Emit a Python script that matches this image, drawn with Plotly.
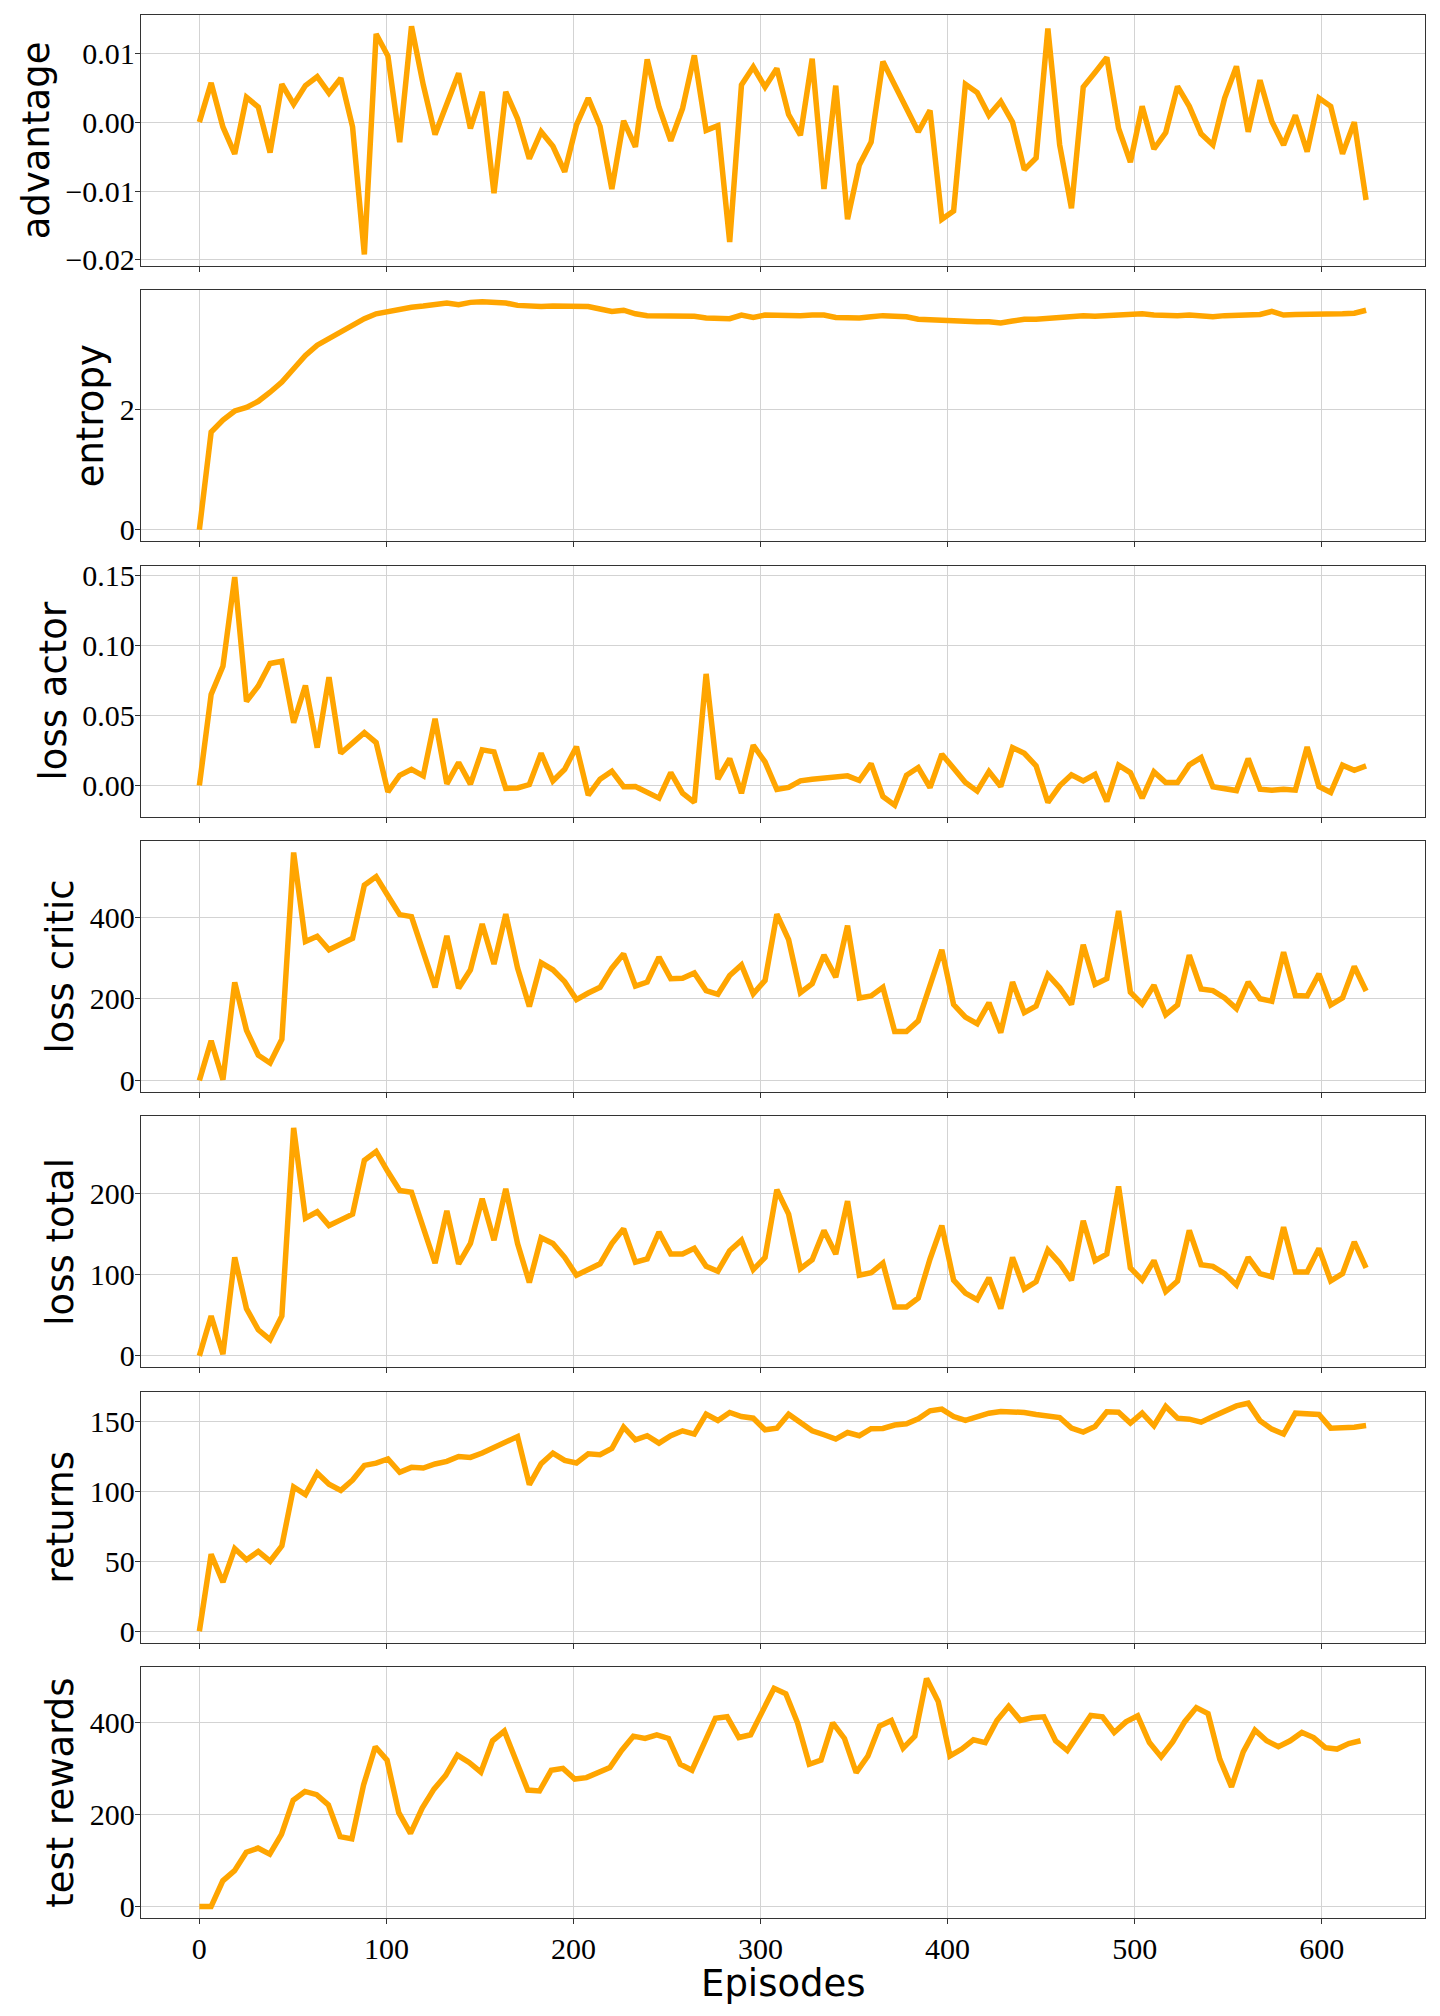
import plotly.graph_objects as go
from plotly.subplots import make_subplots

# episode index of each logged update (100 updates)
episodes = [round(i * 6.3, 2) for i in range(100)]
test_episodes = [round(i * 6.27, 2) for i in range(100)]

advantage = [
    0.0, 0.0057, -0.0007, -0.0046, 0.0036, 0.0022, -0.0044, 0.0055, 0.0026, 0.0053,
    0.0066, 0.0042, 0.0064, -0.0007, -0.0192, 0.0128, 0.0096, -0.0029, 0.0139, 0.0054,
    -0.0018, 0.0025, 0.0071, -0.0009, 0.0044, -0.0103, 0.0044, 0.0005, -0.0053, -0.0014,
    -0.0035, -0.0072, -0.0004, 0.0035, -0.0006, -0.0097, 0.0002, -0.0036, 0.0091, 0.0022,
    -0.0027, 0.0020, 0.0097, -0.0012, -0.0005, -0.0174, 0.0054, 0.0080, 0.0051, 0.0078,
    0.0011, -0.0019, 0.0092, -0.0097, 0.0053, -0.0141, -0.0062, -0.0029, 0.0088, 0.0054,
    0.0020, -0.0014, 0.0017, -0.0141, -0.0129, 0.0055, 0.0043, 0.0010, 0.0030, 0.0000,
    -0.0069, -0.0052, 0.0136, -0.0033, -0.0125, 0.0051, 0.0072, 0.0094, -0.0009, -0.0058,
    0.0023, -0.0039, -0.0015, 0.0052, 0.0023, -0.0017, -0.0033, 0.0035, 0.0081, -0.0014,
    0.0061, 0.0001, -0.0033, 0.0010, -0.0043, 0.0035, 0.0023, -0.0046, 0.0000, -0.0113,
]

entropy = [
    0.0, 1.62, 1.82, 1.97, 2.03, 2.13, 2.28, 2.45, 2.67, 2.89,
    3.06, 3.17, 3.30, 3.40, 3.50, 3.58, 3.62, 3.66, 3.69, 3.71,
    3.73, 3.76, 3.73, 3.77, 3.78, 3.77, 3.76, 3.72, 3.70, 3.70,
    3.71, 3.71, 3.71, 3.70, 3.66, 3.62, 3.64, 3.58, 3.55, 3.55,
    3.56, 3.56, 3.54, 3.51, 3.50, 3.50, 3.56, 3.52, 3.56, 3.55,
    3.55, 3.55, 3.56, 3.56, 3.52, 3.51, 3.51, 3.53, 3.55, 3.54,
    3.53, 3.49, 3.48, 3.48, 3.46, 3.44, 3.45, 3.45, 3.43, 3.46,
    3.49, 3.49, 3.51, 3.52, 3.53, 3.55, 3.54, 3.55, 3.57, 3.59,
    3.58, 3.56, 3.55, 3.55, 3.56, 3.55, 3.53, 3.55, 3.56, 3.56,
    3.57, 3.62, 3.56, 3.57, 3.57, 3.56, 3.57, 3.58, 3.59, 3.64,
]

loss_actor = [
    0.0, 0.065, 0.085, 0.1486, 0.060, 0.071, 0.087, 0.0886, 0.0448, 0.0713,
    0.027, 0.0773, 0.023, 0.031, 0.0377, 0.0306, -0.0045, 0.0073, 0.0116, 0.0069,
    0.0476, 0.0012, 0.0164, 0.001, 0.0254, 0.024, -0.0021, -0.0017, 0.0007, 0.023,
    0.0033, 0.0116, 0.0277, -0.0069, 0.0045, 0.0102, -0.0009, -0.0007, -0.005, -0.009,
    0.0092, -0.0055, -0.012, 0.0796, 0.0045, 0.0192, -0.0055, 0.0287, 0.0168, -0.0028,
    -0.0014, 0.0033, 0.0045, 0.0052, 0.0055, 0.0069, 0.0036, 0.0156, -0.0078, -0.014,
    0.0073, 0.0128, -0.0014, 0.0223, 0.0123, 0.0021, -0.004, 0.010, -0.0007, 0.027,
    0.023, 0.014, -0.012, -0.0002, 0.0076, 0.0033, 0.008, -0.0114, 0.0145, 0.0092,
    -0.009, 0.0097, 0.0021, 0.0021, 0.0147, 0.0199, -0.0009, -0.0019, -0.0036, 0.0192,
    -0.0026, -0.0033, -0.0026, -0.0033, 0.0275, -0.0007, -0.005, 0.0145, 0.0109, 0.014,
]

loss_critic = [
    0, 97, 2, 240, 123, 62, 43, 101, 558, 340,
    353, 320, 334, 348, 478, 499, 452, 406, 401, 314,
    228, 354, 226, 271, 383, 285, 407, 275, 181, 288,
    271, 242, 198, 214, 228, 275, 310, 231, 241, 302,
    249, 250, 263, 220, 211, 257, 283, 212, 245, 407,
    345, 215, 237, 307, 253, 379, 202, 207, 228, 120,
    120, 146, 233, 320, 186, 155, 139, 190, 117, 241,
    166, 182, 259, 227, 186, 332, 235, 249, 415, 216,
    187, 233, 161, 185, 307, 224, 220, 202, 176, 241,
    200, 194, 314, 208, 207, 261, 185, 202, 279, 219,
]

loss_total = [
    0, 49, 2, 121, 58, 32, 20, 49, 280, 169,
    177, 160, 167, 174, 240, 251, 226, 203, 201, 158,
    114, 178, 113, 138, 193, 142, 205, 138, 90, 145,
    138, 121, 99, 106, 113, 138, 156, 115, 119, 152,
    125, 125, 132, 110, 104, 129, 142, 106, 121, 204,
    174, 107, 118, 154, 125, 190, 99, 102, 114, 60,
    60, 71, 119, 160, 93, 77, 69, 96, 58, 121,
    82, 91, 130, 114, 93, 166, 117, 125, 208, 108,
    93, 117, 79, 92, 154, 112, 110, 101, 87, 121,
    101, 97, 158, 103, 103, 132, 92, 101, 140, 108,
]

returns = [
    0, 55, 35, 59, 51, 57, 50, 61, 103, 97.6,
    113, 105, 100.6, 108, 118.4, 120, 123, 113.5, 117, 116.5,
    119.4, 121.3, 124.8, 124.1, 127.2, 131.3, 135.5, 139, 104.7, 119.6,
    127.2, 122, 120.1, 126.7, 126, 130.5, 145.7, 136.7, 139.6, 134.3,
    139.6, 143.1, 140.8, 155, 150.5, 156.2, 153.3, 152.1, 143.8, 145,
    155, 149.3, 143.1, 140.3, 137.2, 141.9, 139.6, 144.6, 144.8, 147.2,
    148.1, 151.7, 157.4, 158.6, 153.3, 150.5, 153.3, 155.7, 156.9, 156.7,
    156.2, 154.8, 153.3, 152.6, 145, 142.2, 146.2, 156.7, 156.4, 148.6,
    155.7, 146.7, 160.5, 152.1, 151.4, 149.3, 153.3, 157.6, 160.9, 162.8,
    150.2, 144.3, 140.8, 155.7, 154.8, 154.8, 145, 145, 145.7, 146.9,
]

test_rewards = [
    0, 0, 56, 78, 118, 127, 114, 157, 231, 250,
    243, 221, 152, 147, 264, 347, 318, 204, 159, 214,
    255, 285, 329, 313, 292, 360, 381, 313, 253, 251,
    296, 300, 277, 280, 291, 302, 339, 370, 365, 373,
    365, 309, 296, 352, 409, 412, 367, 373, 425, 474,
    462, 399, 309, 318, 399, 365, 291, 327, 392, 404,
    344, 370, 495, 445, 327, 342, 362, 356, 404, 435,
    404, 410, 412, 360, 339, 375, 415, 412, 378, 401,
    414, 356, 325, 358, 401, 432, 419, 320, 260, 336,
    383, 360, 347, 360, 378, 367, 345, 342, 354, 360,
]

panels = [
    ("advantage", episodes, advantage, 0.01, ".2f"),
    ("entropy", episodes, entropy, 2, None),
    ("loss actor", episodes, loss_actor, 0.05, ".2f"),
    ("loss critic", episodes, loss_critic, 200, None),
    ("loss total", episodes, loss_total, 100, None),
    ("returns", episodes, returns, 50, None),
    ("test rewards", test_episodes, test_rewards, 200, None),
]

fig = make_subplots(rows=7, cols=1, shared_xaxes=True, vertical_spacing=0.0129)

tick_font = dict(family="Liberation Serif", size=30, color="black")
label_font = dict(family="DejaVu Sans", size=37, color="black")
axis_style = dict(showline=True, mirror=True, linecolor="#333333", linewidth=1.3,
                  ticks="outside", ticklen=5, tickcolor="#333333",
                  showgrid=True, gridcolor="#d3d3d3", gridwidth=1,
                  zeroline=False, tickfont=tick_font, automargin=False)

for i, (name, xs, ys, dt, fmt) in enumerate(panels, start=1):
    fig.add_trace(go.Scatter(x=xs, y=ys, mode="lines",
                             line=dict(color="#FFA500", width=5.5),
                             showlegend=False), row=i, col=1)
    lo, hi = min(ys), max(ys)
    pad = 0.05 * (hi - lo)
    fig.update_yaxes(range=[lo - pad, hi + pad], dtick=dt, tickformat=fmt,
                     ticklabelstandoff=-6,
                     title=dict(text=name, font=label_font, standoff=4),
                     row=i, col=1, **axis_style)
    fig.update_xaxes(range=[-31.2, 655.2], dtick=100, row=i, col=1, **axis_style)

fig.update_xaxes(ticklabelstandoff=-1, row=7, col=1)

# x axis label placed just under the tick labels
fig.add_annotation(text="Episodes", xref="paper", yref="paper", x=0.5, y=-0.0345,
                   xanchor="center", yanchor="middle", showarrow=False, font=label_font)

# page body adds an 8px margin, so the figure is a little smaller than the window
fig.update_layout(width=1424, height=2000, plot_bgcolor="white", paper_bgcolor="white",
                  margin=dict(l=133, r=7, t=7, b=90))

fig.write_html("out.html")
